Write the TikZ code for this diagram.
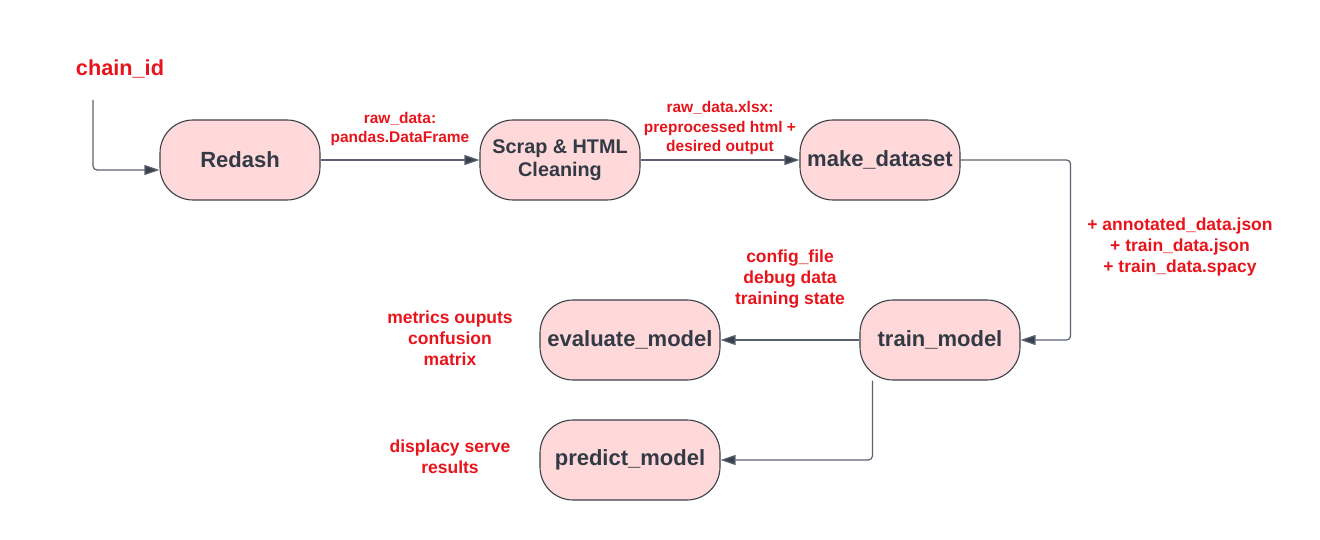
\documentclass[tikz,border=0pt]{standalone}
\usepackage{fontspec}
\setmainfont{Liberation Sans}
\usetikzlibrary{arrows.meta,backgrounds}
\definecolor{boxfill}{HTML}{FFD9D9}
\definecolor{boxline}{HTML}{3A414A}
\definecolor{txtcol}{HTML}{333A45}
\definecolor{lred}{HTML}{E8141B}
\definecolor{conncol}{HTML}{5A6270}
\begin{document}
\begin{tikzpicture}[x=1pt,y=-1pt,
  stagebox/.style={draw=boxline,line width=1.1pt,fill=boxfill,rounded corners=33pt,
    minimum width=160pt,minimum height=80pt,inner sep=0pt,align=center,
    font=\fontsize{22}{24}\selectfont\bfseries,text=txtcol},
  lbl/.style={align=center,text=lred,font=\fontsize{15.5}{19.5}\selectfont\bfseries,inner sep=0pt},
  biglbl/.style={lbl,font=\fontsize{17.5}{21}\selectfont\bfseries},
  conn/.style={draw=conncol,line width=1.2pt,rounded corners=4pt,
    -{Triangle[length=15pt,width=10pt,fill=boxline]}}]
\useasboundingbox (0,0) rectangle (1320,540);

% nodes
\node[stagebox] (redash) at (240,160) {Redash};
\node[stagebox,font=\fontsize{19.8}{23.3}\selectfont\bfseries] (scrap) at (560,160) {Scrap \& HTML\\Cleaning};
\node[stagebox] (md) at (880,160) {make\_dataset};
\node[stagebox] (tm) at (940,340) {train\_model};
\node[stagebox,minimum width=180pt] (em) at (630,340) {evaluate\_model};
\node[stagebox,minimum width=180pt] (pm) at (630,460) {predict\_model};

% labels
\node[text=lred,font=\fontsize{21.7}{26}\selectfont\bfseries,inner sep=0pt] (chain) at (120,69) {chain\_id};
\node[lbl] (l1) at (400,129) {raw\_data:\\pandas.DataFrame};
\node[lbl] (l2) at (720,128) {raw\_data.xlsx:\\preprocessed html +\\desired output};
\node[biglbl] (l3) at (1180,247) {+ annotated\_data.json\\+ train\_data.json\\+ train\_data.spacy};
\node[biglbl] (l4) at (790,279) {config\_file\\debug data\\training state};
\node[biglbl] (l5) at (450,338) {metrics ouputs\\confusion\\matrix};
\node[biglbl] (l6) at (450,457) {displacy serve\\results};

\coordinate (c0) at (93,100);

% connectors
\begin{scope}[on background layer]
\draw[conn] (c0) |- ([yshift=-10pt]redash.west);
\draw[conn] (redash.east) -- (scrap.west);
\draw[conn] (scrap.east) -- (md.west);
\draw[conn] (md.east) -- ++(110,0) |- (tm.east);
\draw[conn] (tm.west) -- (em.east);
\draw[conn] ([xshift=13pt]tm.south west) |- (pm.east);
\end{scope}
\end{tikzpicture}
\end{document}
